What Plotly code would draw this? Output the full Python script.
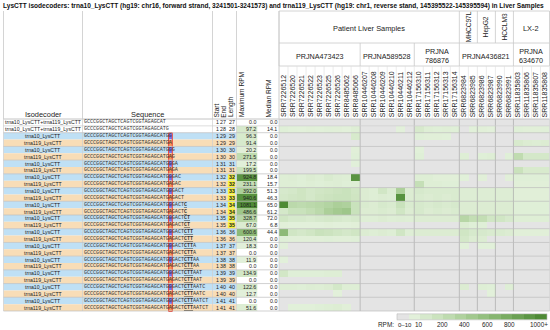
import plotly.graph_objects as go

W, H = 550, 330
title = ("LysCTT isodecoders: trna10_LysCTT (hg19: chr16, forward strand, 3241501-3241573) "
         "and trna119_LysCTT (hg19: chr1, reverse stand, 145395522-145395594) in Liver Samples")

projects = ["PRJNA473423", "PRJNA589528", "PRJNA786876", "PRJNA436821", "PRJNA634670"]
project_sizes = [9, 6, 5, 6, 4]
samples = ["SRR7226512", "SRR7226520", "SRR7226521", "SRR7226522", "SRR7226523", "SRR7226525",
           "SRR7226526", "SRR8485062", "SRR8485066",
           "SRR10446207", "SRR10446208", "SRR10446209", "SRR10446210", "SRR10446211", "SRR10446212",
           "SRR17156310", "SRR17156311", "SRR17156312", "SRR17156313", "SRR17156314",
           "SRR6823984", "SRR6823985", "SRR6823986", "SRR6823987", "SRR6823990", "SRR6823991",
           "SRR11835803", "SRR11835806", "SRR11835807", "SRR11835808"]
top_groups = ["Patient Liver Samples", "MHCC97L", "HepG2", "HCCLM3", "LX-2"]
top_group_sizes = [20, 2, 2, 2, 4]

isodecoders = (["trna10_LysCTT+trna119_LysCTT"] * 2 +
               ["trna10_LysCTT", "trna119_LysCTT"] * 13)
seq_common = "GCCCGGCTAGCTCAGTCGGTAGAGCATG"
seq_tail = "GACTCTTAATCT"
variant = {"trna10_LysCTT": "G", "trna119_LysCTT": "A"}
starts = [1] * 28
ends = [27, 28, 29, 29, 30, 30, 31, 31, 32, 32, 33, 33, 34, 34, 35, 35,
        36, 36, 37, 37, 38, 38, 39, 39, 40, 40, 41, 41]
max_rpm = [0.0, 97.2, 96.3, 91.4, 20.2, 271.5, 17.2, 199.5, 924.8, 231.1, 392.0, 940.6,
           1081.1, 486.6, 328.7, 67.0, 600.6, 120.4, 18.3, 0.0, 11.9, 0.0, 134.9, 0.0,
           122.6, 12.7, 0.0, 51.6]
median_rpm = [0.0, 14.1, 0.0, 0.0, 0.0, 0.0, 0.0, 0.0, 18.4, 15.7, 51.3, 46.3, 65.0, 61.2,
              72.0, 6.8, 44.4, 0.0, 0.0, 0.0, 0.0, 0.0, 0.0, 0.0, 0.0, 0.0, 0.0, 0.0]
highlight_lengths = [32, 33, 34, 35]
anticodon = (34, 36)
variant_pos = 29

rpm = [
    [0, 0, 0, 0, 0, 0, 0, 0, 0, 0, 0, 0, 0, 0, 0, 0, 0, 0, 0, 0, 0, 0, 0, 0, 0, 0, 0, 0, 0, 0],
    [30, 15, 12, 20, 15, 25, 20, 12, 40, 0, 0, 0, 0, 12, 0, 97, 40, 30, 35, 30, 0, 15, 20, 12, 0, 0, 30, 20, 20, 25],
    [0, 0, 0, 0, 0, 0, 0, 0, 96, 0, 0, 0, 0, 0, 0, 30, 20, 20, 15, 0, 0, 0, 0, 0, 0, 0, 0, 0, 0, 0],
    [0, 0, 0, 0, 0, 0, 0, 0, 0, 0, 0, 0, 0, 0, 0, 0, 0, 0, 0, 0, 0, 0, 0, 0, 0, 0, 91, 60, 50, 60],
    [0, 0, 0, 0, 0, 0, 0, 0, 20, 0, 0, 0, 0, 0, 0, 15, 0, 0, 0, 0, 0, 0, 0, 0, 0, 0, 0, 0, 0, 0],
    [0, 0, 0, 0, 0, 0, 0, 0, 30, 0, 0, 0, 0, 0, 0, 30, 0, 0, 0, 0, 40, 0, 30, 40, 0, 30, 271, 120, 120, 120],
    [0, 0, 0, 0, 0, 0, 0, 0, 17, 0, 0, 0, 0, 0, 0, 0, 0, 0, 0, 0, 0, 0, 0, 0, 0, 0, 0, 0, 0, 0],
    [0, 0, 0, 0, 0, 0, 0, 0, 0, 0, 0, 0, 0, 0, 0, 0, 0, 0, 0, 0, 0, 0, 0, 0, 0, 0, 199, 90, 90, 90],
    [40, 50, 30, 60, 40, 80, 50, 40, 925, 0, 0, 0, 0, 0, 0, 40, 40, 20, 20, 20, 15, 0, 20, 0, 0, 20, 30, 30, 30, 30],
    [40, 40, 30, 40, 30, 40, 50, 30, 40, 0, 0, 0, 0, 0, 0, 231, 40, 40, 30, 30, 0, 0, 0, 0, 0, 0, 20, 20, 20, 20],
    [100, 120, 160, 120, 140, 160, 180, 200, 150, 60, 40, 140, 60, 392, 60, 100, 80, 80, 80, 80, 50, 50, 50, 50, 50, 50, 20, 20, 20, 20],
    [120, 140, 160, 120, 160, 180, 200, 200, 160, 60, 40, 60, 50, 941, 60, 80, 60, 80, 60, 80, 50, 50, 50, 50, 50, 50, 20, 20, 20, 20],
    [1081, 300, 280, 300, 320, 350, 400, 380, 200, 80, 60, 100, 80, 200, 80, 100, 80, 100, 80, 100, 60, 60, 60, 60, 60, 60, 30, 30, 30, 30],
    [120, 200, 200, 250, 300, 400, 450, 486, 200, 60, 60, 80, 60, 150, 60, 100, 60, 80, 60, 80, 60, 60, 60, 60, 60, 60, 30, 30, 30, 30],
    [150, 100, 100, 80, 100, 120, 100, 80, 100, 40, 40, 60, 40, 50, 40, 60, 60, 60, 60, 60, 329, 250, 250, 150, 150, 100, 40, 40, 40, 40],
    [20, 10, 10, 10, 10, 20, 10, 10, 20, 0, 0, 0, 0, 0, 0, 0, 0, 0, 0, 0, 67, 30, 30, 0, 0, 0, 0, 0, 0, 0],
    [600, 150, 120, 150, 200, 180, 150, 120, 150, 60, 40, 60, 40, 150, 40, 60, 60, 60, 60, 60, 150, 100, 100, 80, 80, 60, 20, 20, 20, 20],
    [30, 20, 20, 20, 20, 30, 20, 20, 30, 0, 0, 0, 0, 0, 0, 0, 0, 0, 0, 0, 120, 60, 60, 0, 0, 0, 0, 0, 0, 0],
    [18, 0, 0, 0, 0, 0, 0, 0, 0, 0, 0, 0, 0, 0, 0, 0, 0, 0, 0, 0, 15, 0, 15, 15, 0, 0, 0, 0, 0, 0],
    [0, 0, 0, 0, 0, 0, 0, 0, 0, 0, 0, 0, 0, 0, 0, 0, 0, 0, 0, 0, 0, 0, 0, 0, 0, 0, 0, 0, 0, 0],
    [12, 0, 0, 0, 0, 0, 0, 0, 0, 0, 0, 0, 0, 0, 0, 0, 0, 0, 0, 0, 0, 0, 0, 0, 0, 0, 0, 0, 0, 0],
    [0, 0, 0, 0, 0, 0, 0, 0, 0, 0, 0, 0, 0, 0, 0, 0, 0, 0, 0, 0, 0, 0, 0, 0, 0, 0, 0, 0, 0, 0],
    [135, 30, 30, 30, 30, 40, 40, 0, 0, 0, 0, 0, 0, 0, 0, 0, 0, 0, 0, 0, 0, 0, 0, 0, 0, 0, 0, 0, 0, 0],
    [0, 0, 0, 0, 0, 0, 0, 0, 0, 0, 0, 0, 0, 0, 0, 0, 0, 0, 0, 0, 0, 0, 0, 0, 0, 0, 0, 0, 0, 0],
    [40, 40, 30, 50, 40, 60, 123, 40, 40, 0, 0, 0, 0, 0, 0, 0, 0, 0, 0, 0, 60, 0, 40, 30, 0, 40, 0, 0, 0, 0],
    [0, 0, 0, 0, 0, 0, 13, 0, 0, 0, 0, 0, 0, 0, 0, 0, 0, 0, 0, 0, 0, 0, 0, 12, 0, 0, 0, 0, 0, 0],
    [0, 0, 0, 0, 0, 0, 0, 0, 0, 0, 0, 0, 0, 0, 0, 0, 0, 0, 0, 0, 0, 0, 0, 0, 0, 0, 0, 0, 0, 0],
    [0, 15, 15, 15, 30, 40, 52, 20, 0, 0, 0, 0, 0, 0, 0, 0, 0, 0, 0, 0, 0, 0, 0, 0, 0, 0, 0, 0, 0, 0],
]
legend_labels = ["0–10", "10", "200", "400", "600", "800", "1000+"]
legend_values = [0, 10, 200, 400, 600, 800, 1000]

# ---------------- layout constants ----------------
FONT = "Liberation Sans, Arial, sans-serif"
MONO = "Liberation Mono, Courier New, monospace"
TX0, TX1 = 3.5, 549.5
X_ISO, X_SEQ, X_START, X_END, X_LEN, X_MAX, X_MED, X_HM = 3.5, 82.5, 212.5, 219.8, 226.8, 236.5, 257.5, 279.0
HDR_TOP, HDR_R1, HDR_R2, HDR_BOT = 11.0, 43.0, 66.0, 119.0
N = len(isodecoders)
ROW_H = 6.857
DATA_BOT = HDR_BOT + N * ROW_H
NCOL = len(samples)
COL_W = (TX1 - X_HM) / NCOL
GRAY_HM = "#e4e4e4"
BLUE_ROW, TAN_ROW = "#bfe0f5", "#f8ddb7"
LINE = "#c9c9c9"
DARK_LINE = "#a9a9a9"

def py(p):
    return 1 - p / H

def px(p):
    return p / W

def row_y(k):
    return HDR_BOT + (k + 0.5) * ROW_H

def col_x(i):
    return X_HM + (i + 0.5) * COL_W

greens = [[0.01, "#e2f0da"], [0.25, "#c3deb4"], [0.5, "#9cc587"], [0.75, "#76aa5e"], [1.0, "#4e8a35"]]
green_scale = [[0.0, GRAY_HM], [0.0099, GRAY_HM]] + greens
max_scale = [[0.0, "#ffffff"], [0.0099, "#ffffff"]] + greens

fig = go.Figure()

fig.add_trace(go.Heatmap(z=rpm, x=list(range(NCOL)), y=list(range(N)), zmin=0, zmax=1000,
                         colorscale=green_scale, showscale=False, xaxis="x2", yaxis="y2",
                         hoverinfo="skip"))
fig.add_trace(go.Heatmap(z=[[v] for v in max_rpm], x=[0], y=list(range(N)), zmin=0, zmax=1000,
                         colorscale=max_scale, showscale=False, xaxis="x3", yaxis="y3",
                         hoverinfo="skip"))
n_leg = 13
leg_z = [[0] + [10 + (1000 - 10) * j / (n_leg - 2) for j in range(n_leg - 1)]]
fig.add_trace(go.Heatmap(z=leg_z, zmin=0, zmax=1000, colorscale=green_scale, showscale=False,
                         xaxis="x4", yaxis="y4", hoverinfo="skip", xgap=0))

shapes = []
ann = []

def rect(x0, y0, x1, y1, fill, line=None, lw=0, layer="below"):
    shapes.append(dict(type="rect", xref="x", yref="y", x0=x0, y0=y0, x1=x1, y1=y1,
                       fillcolor=fill, line=dict(color=line or fill, width=lw), layer=layer))

def hline(x0, x1, y, color=LINE, w=0.8):
    shapes.append(dict(type="line", xref="x", yref="y", x0=x0, x1=x1, y0=y, y1=y,
                       line=dict(color=color, width=w), layer="above"))

def vline(x, y0, y1, color=LINE, w=0.8):
    shapes.append(dict(type="line", xref="x", yref="y", x0=x, x1=x, y0=y0, y1=y1,
                       line=dict(color=color, width=w), layer="above"))

def text(x, y, s, size=5.3, xanchor="center", yanchor="middle", angle=0, font=FONT, color="#222"):
    ann.append(dict(x=x, y=y, xref="x", yref="y", text=s, showarrow=False, xanchor=xanchor,
                    yanchor=yanchor, textangle=angle, borderpad=0, borderwidth=0,
                    font=dict(family=font, size=size, color=color)))

text(3, 5.5, "<b>" + title + "</b>", size=6.55, xanchor="left", color="#111")

for k in range(N):
    y0, y1 = HDR_BOT + k * ROW_H, HDR_BOT + (k + 1) * ROW_H
    name = isodecoders[k]
    if name == "trna10_LysCTT":
        fill = BLUE_ROW
    elif name == "trna119_LysCTT":
        fill = TAN_ROW
    else:
        fill = "white"
    rect(X_ISO, y0, X_MAX, y1, fill)
    if ends[k] in highlight_lengths:
        rect(X_LEN + 1, y0 + 0.3, X_MAX - 1.6, y1 - 0.3, "#f6f33a")

CW = 5.05 * 0.6
SEQ_X = X_SEQ + 1.6
for k in range(N):
    name = isodecoders[k]
    L = ends[k]
    if name in variant:
        full = seq_common + variant[name] + seq_tail
    else:
        full = seq_common + "A" + seq_tail
    s = full[:L]
    html = ""
    for i, ch in enumerate(s):
        pos = i + 1
        if anticodon[0] <= pos <= anticodon[1]:
            html += "<b><u>" + ch + "</u></b>"
        else:
            html += ch
    if name in variant and L >= variant_pos:
        hx0 = SEQ_X + (variant_pos - 1) * CW
        y0 = HDR_BOT + k * ROW_H
        col = "#6f74f2" if name == "trna10_LysCTT" else "#f59a58"
        rect(hx0, y0 + 0.4, hx0 + CW, y0 + ROW_H - 0.4, col)
    text(SEQ_X, row_y(k), html, size=5.05, xanchor="left", font=MONO, color="#333")

first_var = next(k for k in range(N) if isodecoders[k] in variant)
rx0 = SEQ_X + (variant_pos - 1) * CW
shapes.append(dict(type="rect", xref="x", yref="y", x0=rx0 - 0.3, x1=rx0 + CW + 0.3,
                   y0=HDR_BOT + first_var * ROW_H, y1=DATA_BOT + 0.5,
                   line=dict(color="#ee3b2f", width=1), fillcolor="rgba(0,0,0,0)", layer="above"))

for k in range(N):
    y = row_y(k)
    text((X_ISO + X_SEQ) / 2, y, isodecoders[k], size=5.15)
    text(X_END - 1.2, y, str(starts[k]), size=5.3, xanchor="right")
    text(X_LEN - 0.8, y, str(ends[k]), size=5.3, xanchor="right")
    ln = str(ends[k])
    if ends[k] in highlight_lengths:
        ln = "<b>" + ln + "</b>"
    text(X_MAX - 2.0, y, ln, size=5.3, xanchor="right")
    text(X_MED - 1.2, y, f"{max_rpm[k]:.1f}", size=5.3, xanchor="right")
    text(X_HM - 2.3, y, f"{median_rpm[k]:.1f}", size=5.3, xanchor="right")

text((X_ISO + X_SEQ) / 2, 114.5, "Isodecoder", size=7.4)
text((X_SEQ + X_START) / 2, 114.5, "Sequence", size=7.4)
for xx, lab in [(X_START + 3.6, "Start"), (X_END + 3.5, "End"), (X_LEN + 4.2, "Length"),
                (X_MAX + 4.5, "Maximum RPM"), (X_MED + 10.5, "Median RPM")]:
    text(xx, HDR_BOT - 1.5, lab, size=6.6, angle=-90, yanchor="bottom")
for i, s in enumerate(samples):
    text(col_x(i), HDR_BOT - 1.5, s, size=7.0, angle=-90, yanchor="bottom")

c = 0
for g, n in zip(top_groups, top_group_sizes):
    x0, x1 = X_HM + c * COL_W, X_HM + (c + n) * COL_W
    if n == 2:
        text((x0 + x1) / 2, (HDR_TOP + HDR_R1) / 2, g, size=6.6, angle=-90)
    else:
        text((x0 + x1) / 2, (HDR_TOP + HDR_R1) / 2 + 1, g, size=7.4)
    vline(x0, HDR_TOP, HDR_R1)
    c += n
vline(X_HM + c * COL_W, HDR_TOP, HDR_R1)

c = 0
for p, n in zip(projects, project_sizes):
    x0, x1 = X_HM + c * COL_W, X_HM + (c + n) * COL_W
    if n <= 5:
        text((x0 + x1) / 2, (HDR_R1 + HDR_R2) / 2 + 1, p[:5] + "<br>" + p[5:], size=7.2)
    else:
        text((x0 + x1) / 2, (HDR_R1 + HDR_R2) / 2 + 1.5, p, size=7.2)
    vline(x0, HDR_R1, HDR_R2)
    c += n
vline(TX1, HDR_R1, HDR_R2)

hline(X_HM, TX1, HDR_TOP)
hline(X_HM, TX1, HDR_R1)
hline(X_HM, TX1, HDR_R2)
hline(TX0, TX1, HDR_BOT, color="#b5b5b5")
for xx in [TX0, X_SEQ, X_START, X_MAX, X_HM]:
    vline(xx, HDR_TOP, HDR_BOT)
for i in range(NCOL + 1):
    vline(X_HM + i * COL_W, HDR_R2, HDR_BOT, color="#dedede", w=0.6)

for xx in [TX0, X_SEQ, X_START, X_MAX, X_HM, TX1]:
    vline(xx, HDR_BOT, DATA_BOT, color="#cfcfcf", w=0.7)
for cum in [9, 15, 20, 22, 24, 26]:
    vline(X_HM + cum * COL_W, HDR_BOT, DATA_BOT, color=DARK_LINE, w=0.7)
hline(TX0, TX1, HDR_BOT + ROW_H, color="#cfcfcf", w=0.7)
for k in range(2, N + 1, 2):
    hline(TX0, TX1, HDR_BOT + k * ROW_H, color="#bdbdbd", w=0.7)

# legend
LEG_X0, LEG_X1, LEG_Y0, LEG_Y1 = 397.0, 547.0, 313.8, 319.8
LEG_TY = 324.8
text(393.5, LEG_TY, "RPM:", size=6.4, xanchor="right")
for lab, v in zip(legend_labels, legend_values):
    if v == 0:
        text(398.0, LEG_TY, lab, size=6.0, xanchor="left")
    elif v == 10:
        text(414.5, LEG_TY, lab, size=6.4, xanchor="left")
    elif v == 1000:
        text(547.5, LEG_TY, lab, size=6.4, xanchor="right")
    else:
        text(442.5 + (v - 200) * 0.1118, LEG_TY, lab, size=6.4)

hidden = dict(visible=False, showgrid=False, zeroline=False, fixedrange=True)
fig.update_layout(
    width=W, height=H, margin=dict(l=0, r=0, t=0, b=0),
    paper_bgcolor="white", plot_bgcolor="rgba(0,0,0,0)", showlegend=False,
    xaxis=dict(range=[0, W], domain=[0, 1], **hidden),
    yaxis=dict(range=[H, 0], domain=[0, 1], **hidden),
    xaxis2=dict(range=[-0.5, NCOL - 0.5], domain=[px(X_HM), px(TX1)], anchor="y2", **hidden),
    yaxis2=dict(range=[N - 0.5, -0.5], domain=[py(DATA_BOT), py(HDR_BOT)], anchor="x2", **hidden),
    xaxis3=dict(range=[-0.5, 0.5], domain=[px(X_MAX), px(X_MED)], anchor="y3", **hidden),
    yaxis3=dict(range=[N - 0.5, -0.5], domain=[py(DATA_BOT), py(HDR_BOT)], anchor="x3", **hidden),
    xaxis4=dict(range=[-0.5, n_leg - 0.5], domain=[px(LEG_X0), px(LEG_X1)], anchor="y4", **hidden),
    yaxis4=dict(range=[-0.5, 0.5], domain=[py(LEG_Y1), py(LEG_Y0)], anchor="x4", **hidden),
    shapes=shapes, annotations=ann,
)
fig.add_shape(type="rect", xref="x", yref="y", x0=LEG_X0, x1=LEG_X1, y0=LEG_Y0, y1=LEG_Y1,
              line=dict(color="#bbbbbb", width=0.6), fillcolor="rgba(0,0,0,0)", layer="above")
fig.write_html("out.html", config={"displayModeBar": False},
               post_script="document.body.style.margin='0';document.body.style.padding='0';")
